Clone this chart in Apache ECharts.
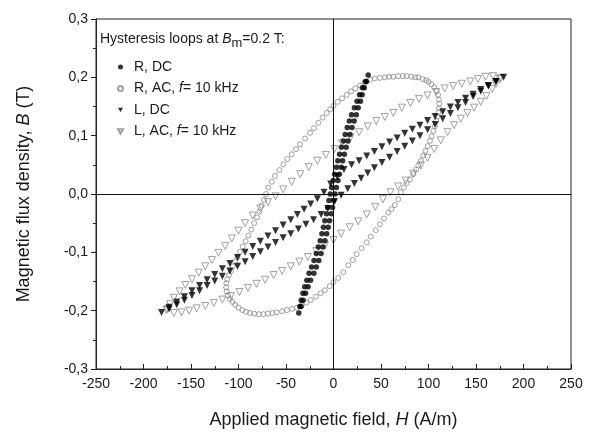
<!DOCTYPE html>
<html>
<head>
<meta charset="utf-8">
<script src="https://cdn.jsdelivr.net/npm/echarts@6/dist/echarts.min.js"></script>
<style>
html,body{margin:0;padding:0;background:#fff;}
#chart{width:591px;height:434px;}
</style>
</head>
<body>
<div id="chart"></div>
<script>
// ---------- DATA: [H (A/m), B (T)] ----------
var seriesNames = ['R, DC', 'R, AC, f= 10 kHz', 'L, DC', 'L, AC, f= 10 kHz'];
var xTicks = [-250, -200, -150, -100, -50, 0, 50, 100, 150, 200, 250];
var yTicks = [-0.3, -0.2, -0.1, 0.0, 0.1, 0.2, 0.3];

// R, DC - descending branch (top tip -> bottom tip)
var rDcDesc = [[36.5,0.204],[33.6,0.193],[30.4,0.182],[27.4,0.170],[24.8,0.159],[22.0,0.148],[19.0,0.136],[16.7,0.125],[14.5,0.114],[12.3,0.102],[10.3,0.091],[8.3,0.080],[6.4,0.068],[4.6,0.057],[3.1,0.046],[1.2,0.034],[-0.3,0.023],[-2.0,0.011],[-3.4,0.000],[-4.8,-0.011],[-6.1,-0.023],[-7.4,-0.034],[-9.1,-0.046],[-10.6,-0.057],[-12.2,-0.068],[-14.0,-0.080],[-16.0,-0.091],[-18.1,-0.102],[-20.5,-0.114],[-23.1,-0.125],[-25.7,-0.136],[-28.1,-0.148],[-30.3,-0.159],[-32.2,-0.170],[-34.0,-0.182],[-35.4,-0.193],[-36.5,-0.204]];
// R, DC - ascending branch (bottom tip -> top tip)
var rDcAsc = [[-34.2,-0.193],[-32.0,-0.182],[-29.4,-0.170],[-26.7,-0.159],[-24.1,-0.148],[-20.7,-0.136],[-18.1,-0.125],[-15.5,-0.114],[-13.1,-0.102],[-11.0,-0.091],[-9.0,-0.080],[-7.2,-0.068],[-5.6,-0.057],[-4.1,-0.046],[-2.4,-0.034],[-1.1,-0.023],[0.2,-0.011],[1.6,0.000],[3.0,0.011],[4.7,0.023],[6.2,0.034],[8.1,0.046],[9.6,0.057],[11.4,0.068],[13.3,0.080],[15.3,0.091],[17.3,0.102],[19.5,0.114],[21.7,0.125],[24.0,0.136],[26.0,0.148],[28.4,0.159],[30.2,0.170],[32.4,0.182],[34.8,0.193]];

// R, AC - right/upper half of the loop
var rAcRight = [[0,0.151],[4.5,0.158],[9,0.164],[13.9,0.170],[18.5,0.176],[23,0.181],[27.9,0.186],[33,0.191],[38.4,0.196],[43.5,0.198],[48.9,0.199],[54,0.200],[58.5,0.201],[63,0.201],[68,0.202],[73,0.202],[77,0.202],[82,0.201],[86,0.200],[89.3,0.200],[94,0.197],[97.5,0.195],[100,0.192],[103,0.188],[106,0.183],[108.5,0.177],[110,0.170],[111,0.162],[111.3,0.155],[111,0.147],[110.5,0.140],[109.3,0.133],[108,0.125],[106.8,0.116],[105,0.108],[103.3,0.099],[101.5,0.091],[99.1,0.082],[96.8,0.074],[94.6,0.066],[92,0.057],[89.3,0.049],[87,0.042],[84,0.034],[80.5,0.025],[77,0.019],[74,0.011],[71,0.003],[68.2,-0.009],[64.5,-0.019],[61,-0.026],[57.7,-0.032],[53.2,-0.042],[49,-0.052],[44.4,-0.062],[39.1,-0.073],[35,-0.083],[29.6,-0.093],[24.4,-0.103],[20.2,-0.113],[15.6,-0.122],[10.3,-0.134],[5,-0.144],[0,-0.151]];
// R, AC - left/lower half of the loop
var rAcLeft = [[-4,-0.158],[-9,-0.165],[-13.5,-0.170],[-18.5,-0.176],[-24,-0.182],[-28.5,-0.186],[-33.5,-0.191],[-38.5,-0.195],[-43.5,-0.197],[-49,-0.199],[-54,-0.201],[-59.8,-0.203],[-64.5,-0.204],[-69,-0.205],[-73.9,-0.206],[-78.5,-0.206],[-83.5,-0.205],[-87.9,-0.204],[-92,-0.202],[-96,-0.199],[-100,-0.195],[-103.5,-0.190],[-106.5,-0.185],[-109,-0.180],[-111,-0.174],[-112.5,-0.167],[-113,-0.160],[-112.8,-0.153],[-111.8,-0.146],[-110,-0.139],[-108,-0.132],[-106,-0.124],[-103.5,-0.116],[-101,-0.108],[-98.5,-0.099],[-95.5,-0.090],[-92.5,-0.081],[-89.5,-0.071],[-86.5,-0.061],[-83.5,-0.050],[-80.5,-0.040],[-78,-0.030],[-75.5,-0.020],[-73,-0.010],[-71,0.000],[-68.6,0.011],[-65,0.021],[-61.6,0.031],[-57,0.041],[-52.8,0.051],[-48.5,0.060],[-44,0.068],[-39.5,0.077],[-35.3,0.085],[-30,0.095],[-24.7,0.105],[-20.5,0.113],[-16,0.122],[-11.5,0.131],[-7.2,0.139],[-3.5,0.145]];

// L, DC - descending branch
var lDcDesc = [[179,0.200],[171,0.193],[163,0.186],[155,0.179],[147,0.171],[139,0.164],[131,0.157],[123,0.149],[115,0.141],[107,0.133],[99,0.126],[91,0.118],[83,0.111],[75,0.104],[67,0.096],[59,0.089],[51,0.081],[43,0.073],[35,0.065],[27,0.057],[19,0.050],[11,0.042],[4,0.030],[-3,0.017],[-10,0.003],[-17,-0.008],[-24,-0.017],[-31,-0.026],[-38,-0.035],[-45,-0.044],[-53,-0.053],[-61,-0.063],[-69,-0.072],[-77,-0.081],[-85,-0.090],[-93,-0.100],[-101,-0.109],[-109,-0.119],[-117,-0.128],[-125,-0.138],[-133,-0.147],[-141,-0.157],[-149,-0.166],[-157,-0.176],[-165,-0.185],[-173,-0.194],[-181,-0.203]];
// L, DC - ascending branch
var lDcAsc = [[-173,-0.197],[-165,-0.190],[-157,-0.182],[-149,-0.174],[-141,-0.166],[-133,-0.157],[-125,-0.149],[-117,-0.141],[-109,-0.132],[-101,-0.124],[-93,-0.116],[-85,-0.107],[-77,-0.099],[-69,-0.091],[-61,-0.083],[-53,-0.075],[-45,-0.068],[-37,-0.060],[-29,-0.052],[-21,-0.044],[-13,-0.035],[-6,-0.025],[1,-0.013],[8,-0.002],[15,0.009],[22,0.018],[29,0.027],[36,0.036],[43,0.045],[51,0.054],[59,0.063],[67,0.073],[75,0.082],[83,0.091],[91,0.100],[99,0.110],[107,0.119],[115,0.129],[123,0.138],[131,0.148],[139,0.157],[147,0.167],[155,0.176],[163,0.185],[171,0.193]];

// L, AC - descending branch
var lAcDesc = [[176,0.199],[168,0.202],[160,0.201],[152,0.197],[144,0.193],[135,0.189],[126,0.185],[117,0.181],[108,0.175],[99,0.169],[90,0.163],[81,0.156],[72,0.148],[63,0.139],[54,0.132],[45,0.125],[36,0.116],[27,0.106],[18,0.097],[9,0.087],[1,0.077],[-8,0.067],[-17,0.057],[-26,0.046],[-35,0.034],[-44,0.021],[-53,0.008],[-61,-0.004],[-69,-0.014],[-77,-0.025],[-85,-0.037],[-93,-0.050],[-100,-0.063],[-107,-0.076],[-114,-0.089],[-121,-0.101],[-128,-0.113],[-135,-0.124],[-142,-0.135],[-149,-0.146],[-156,-0.156],[-162,-0.167],[-168,-0.178],[-172,-0.189],[-175,-0.197]];
// L, AC - ascending branch
var lAcAsc = [[-176,-0.199],[-168,-0.204],[-160,-0.203],[-152,-0.200],[-144,-0.196],[-135,-0.192],[-126,-0.187],[-117,-0.181],[-108,-0.175],[-99,-0.168],[-90,-0.161],[-81,-0.154],[-72,-0.147],[-63,-0.139],[-54,-0.132],[-45,-0.124],[-36,-0.116],[-27,-0.108],[-18,-0.098],[-9,-0.088],[0,-0.079],[8,-0.068],[17,-0.057],[26,-0.047],[35,-0.035],[44,-0.022],[52,-0.009],[60,0.003],[68,0.013],[76,0.023],[84,0.035],[92,0.049],[99,0.062],[106,0.077],[113,0.092],[120,0.106],[127,0.118],[134,0.129],[141,0.139],[148,0.148],[155,0.158],[161,0.168],[167,0.180],[171,0.189],[175,0.197]];

// ---------- CHART ----------
var FONT = '"Liberation Sans", Arial, sans-serif';
var TXT = '#1a1a1a';
var GRAY = '#8a8a8a';
var DOWN_TRI = 'path://M0,0L10,0L5,9Z';
var chart = echarts.init(document.getElementById('chart'), null, {renderer: 'canvas'});

function commaFmt(v) { return (Math.round(v * 10) / 10).toFixed(1).replace('.', ','); }

var option = {
  animation: false,
  backgroundColor: '#fff',
  textStyle: {fontFamily: FONT},
  grid: {left: 96, right: 20, top: 19, bottom: 63, show: true, borderColor: '#222', borderWidth: 1, backgroundColor: 'transparent'},
  legend: {
    orient: 'vertical', left: 112, top: 54, itemWidth: 5, itemHeight: 5, itemGap: 5.5,
    data: [
      {name: seriesNames[0], icon: 'circle'},
      {name: seriesNames[1], icon: 'circle'},
      {name: seriesNames[2], icon: DOWN_TRI},
      {name: seriesNames[3], icon: DOWN_TRI}
    ],
    textStyle: {fontFamily: FONT, fontSize: 14, color: TXT, lineHeight: 16, padding: [0, 0, 0, 6],
      rich: {i: {fontFamily: FONT, fontSize: 14, fontStyle: 'italic', color: TXT}}},
    formatter: function (name) { return name.replace('f=', '{i|f}='); }
  },
  graphic: [{
    type: 'text', left: 100, top: 32,
    style: {
      text: '{a|Hysteresis loops at }{b|B}{s|m}{a|=0.2 T:}',
      rich: {
        a: {fontFamily: FONT, fontSize: 14, fill: TXT},
        b: {fontFamily: FONT, fontSize: 14, fontStyle: 'italic', fill: TXT},
        s: {fontFamily: FONT, fontSize: 13, fill: TXT, padding: [9, 0, 0, 0]}
      }
    }
  }],
  xAxis: {
    type: 'value', min: xTicks[0], max: xTicks[xTicks.length - 1], interval: 50,
    name: '{n|Applied magnetic field, }{i|H}{n| (A/m)}', nameLocation: 'middle', nameGap: 42,
    nameTextStyle: {rich: {n: {fontFamily: FONT, fontSize: 18, color: TXT}, i: {fontFamily: FONT, fontSize: 18, fontStyle: 'italic', color: TXT}}},
    axisLine: {onZero: false, lineStyle: {color: '#222', width: 1}},
    axisTick: {inside: true, length: 5, lineStyle: {color: '#222'}},
    minorTick: {show: true, splitNumber: 2, length: 3, lineStyle: {color: '#222'}},
    axisLabel: {fontFamily: FONT, fontSize: 14, color: TXT, margin: 8},
    splitLine: {show: false}
  },
  yAxis: {
    type: 'value', min: yTicks[0], max: yTicks[yTicks.length - 1], interval: 0.1,
    name: '{n|Magnetic flux density, }{i|B}{n| (T)}', nameLocation: 'middle', nameGap: 63,
    nameTextStyle: {rich: {n: {fontFamily: FONT, fontSize: 18, color: TXT}, i: {fontFamily: FONT, fontSize: 18, fontStyle: 'italic', color: TXT}}},
    axisLine: {onZero: false, lineStyle: {color: '#222', width: 1}},
    axisTick: {inside: false, length: 5, lineStyle: {color: '#222'}},
    minorTick: {show: true, splitNumber: 2, length: 3, lineStyle: {color: '#222'}},
    axisLabel: {fontFamily: FONT, fontSize: 14, color: TXT, margin: 8, formatter: commaFmt},
    splitLine: {show: false}
  },
  series: [
    {
      name: seriesNames[0], type: 'scatter', symbol: 'circle', symbolSize: 5.5,
      itemStyle: {color: '#000'},
      data: rDcDesc.concat(rDcAsc), z: 5,
      markLine: {
        silent: true, symbol: 'none', animation: false,
        label: {show: false},
        lineStyle: {color: '#111', width: 1, type: 'solid'},
        data: [{xAxis: 0}, {yAxis: 0}]
      }
    },
    {
      name: seriesNames[1], type: 'scatter', symbol: 'circle', symbolSize: 5,
      itemStyle: {color: 'rgba(255,255,255,0)', borderColor: GRAY, borderWidth: 1},
      data: rAcRight.concat(rAcLeft), z: 3
    },
    {
      name: seriesNames[2], type: 'scatter', symbol: 'triangle', symbolRotate: 180, symbolSize: 7,
      itemStyle: {color: '#000'},
      data: lDcDesc.concat(lDcAsc), z: 4
    },
    {
      name: seriesNames[3], type: 'scatter', symbol: 'triangle', symbolRotate: 180, symbolSize: 7,
      itemStyle: {color: 'rgba(255,255,255,0)', borderColor: GRAY, borderWidth: 1},
      data: lAcDesc.concat(lAcAsc), z: 3
    }
  ]
};
chart.setOption(option);
</script>
</body>
</html>
